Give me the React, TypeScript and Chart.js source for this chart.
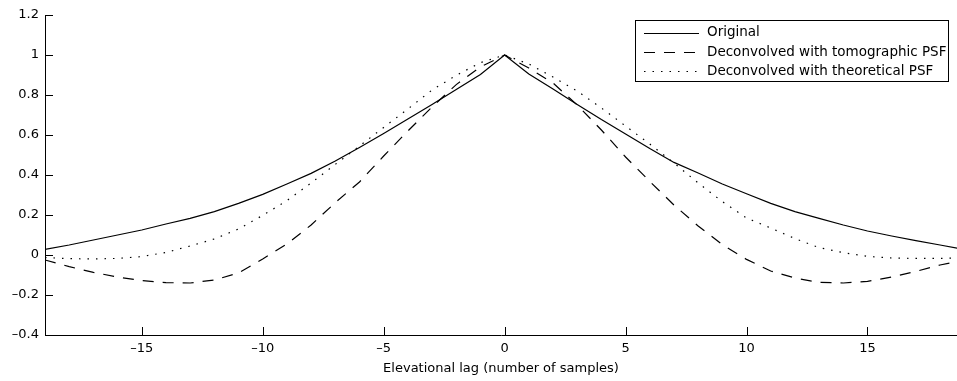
import React, { useEffect, useRef } from 'react';
import { Chart, registerables } from 'chart.js';

Chart.register(...registerables);

const lags = [-19, -18, -17, -16, -15, -14, -13, -12, -11, -10, -9, -8, -7, -6, -5, -4, -3, -2, -1, 0,
  1, 2, 3, 4, 5, 6, 7, 8, 9, 10, 11, 12, 13, 14, 15, 16, 17, 18, 19];

const original = [0.028, 0.05, 0.075, 0.1, 0.125, 0.155, 0.183, 0.217, 0.258, 0.303, 0.355, 0.408, 0.47, 0.538, 0.608, 0.68, 0.753, 0.828, 0.903, 1.0,
  0.905, 0.83, 0.753, 0.677, 0.605, 0.532, 0.463, 0.41, 0.355, 0.306, 0.258, 0.217, 0.183, 0.15, 0.12, 0.095, 0.072, 0.05, 0.028];

const tomographic = [-0.025, -0.058, -0.087, -0.11, -0.128, -0.138, -0.14, -0.125, -0.09, -0.02, 0.055, 0.15, 0.262, 0.365, 0.495, 0.62, 0.74, 0.852, 0.94, 1.0,
  0.935, 0.86, 0.75, 0.625, 0.49, 0.368, 0.25, 0.145, 0.052, -0.022, -0.08, -0.115, -0.137, -0.14, -0.132, -0.11, -0.082, -0.05, -0.025];

const theoretical = [-0.013, -0.018, -0.02, -0.017, -0.008, 0.013, 0.045, 0.08, 0.13, 0.198, 0.272, 0.36, 0.453, 0.545, 0.638, 0.73, 0.825, 0.898, 0.962, 1.0,
  0.955, 0.89, 0.82, 0.735, 0.645, 0.555, 0.46, 0.36, 0.267, 0.185, 0.135, 0.082, 0.037, 0.012, -0.007, -0.015, -0.017, -0.017, -0.013];

const seriesLabels = ['Original', 'Deconvolved with tomographic PSF', 'Deconvolved with theoretical PSF'];
const xTitle = 'Elevational lag (number of samples)';

const FONT = '"DejaVu Sans", "Liberation Sans", Arial, sans-serif';
const DASH = [11, 9];
const DOT = [1.5, 7];
const dashes = [[], DASH, DOT];

const fmt = (v: number) => {
  const n = Number(Number(v).toFixed(1));
  const s = String(Math.abs(n));
  return n < 0 ? '\u2013' + s : s;
};

const tickPlugin = {
  id: 'inwardTicks',
  afterDraw(chart: any) {
    const { ctx, chartArea, scales } = chart;
    ctx.save();
    ctx.strokeStyle = '#000';
    ctx.lineWidth = 1;
    ctx.beginPath();
    scales.x.ticks.forEach((t: any) => {
      const px = Math.round(scales.x.getPixelForValue(t.value)) + 0.5;
      ctx.moveTo(px, chartArea.bottom);
      ctx.lineTo(px, chartArea.bottom - 8);
    });
    scales.y.ticks.forEach((t: any) => {
      const py = Math.round(scales.y.getPixelForValue(t.value)) + 0.5;
      ctx.moveTo(chartArea.left, py);
      ctx.lineTo(chartArea.left + 8, py);
    });
    ctx.stroke();
    ctx.restore();
  },
};

const legendPlugin = {
  id: 'boxLegend',
  afterDraw(chart: any) {
    const { ctx } = chart;
    const x0 = 635.5, y0 = 20.5, w = 313, h = 61;
    ctx.save();
    ctx.fillStyle = '#fff';
    ctx.fillRect(x0, y0, w, h);
    ctx.strokeStyle = '#000';
    ctx.lineWidth = 1;
    ctx.setLineDash([]);
    ctx.strokeRect(x0, y0, w, h);
    const rows = [32.5, 52, 71];
    ctx.font = '13.5px ' + FONT;
    ctx.textBaseline = 'middle';
    ctx.textAlign = 'left';
    seriesLabels.forEach((lab, i) => {
      const y = Math.round(rows[i]) + 0.5;
      ctx.beginPath();
      ctx.setLineDash(dashes[i]);
      ctx.lineWidth = 1.1;
      ctx.moveTo(644, y);
      ctx.lineTo(699, y);
      ctx.stroke();
      ctx.setLineDash([]);
      ctx.fillStyle = '#000';
      ctx.fillText(lab, 707, rows[i]);
    });
    ctx.restore();
  },
};

export default function App() {
  const ref = useRef<HTMLCanvasElement | null>(null);
  useEffect(() => {
    document.body.style.margin = '0';
    const canvas = ref.current;
    if (!canvas) return;
    const mk = (vals: number[]) => lags.map((x, i) => ({ x, y: vals[i] }));
    const chart = new Chart(canvas, {
      type: 'line',
      data: {
        datasets: [
          { label: seriesLabels[0], data: mk(original), borderColor: '#000', borderWidth: 1.2, pointRadius: 0, tension: 0, fill: false },
          { label: seriesLabels[1], data: mk(tomographic), borderColor: '#000', borderWidth: 1.2, borderDash: DASH, pointRadius: 0, tension: 0, fill: false },
          { label: seriesLabels[2], data: mk(theoretical), borderColor: '#000', borderWidth: 1.2, borderDash: DOT, pointRadius: 0, tension: 0, fill: false },
        ],
      },
      options: {
        responsive: false,
        animation: false,
        devicePixelRatio: 1,
        layout: { padding: { top: 15, right: 0, left: 0, bottom: 0 } },
        plugins: { legend: { display: false }, tooltip: { enabled: false } },
        scales: {
          x: {
            type: 'linear',
            min: -19,
            max: 18.7,
            grid: { display: false, drawTicks: false },
            border: { display: true, color: '#000', width: 1 },
            ticks: {
              stepSize: 5,
              includeBounds: false,
              padding: 6,
              color: '#000',
              maxRotation: 0,
              autoSkip: false,
              font: { family: FONT, size: 13 },
              callback: (v: any) => fmt(v),
            },
            title: {
              display: true,
              text: xTitle,
              color: '#000',
              font: { family: FONT, size: 13 },
              padding: { top: 0, bottom: 5 },
            },
            afterFit: (s: any) => { s.height = 46; },
          },
          y: {
            type: 'linear',
            min: -0.4,
            max: 1.2,
            grid: { display: false, drawTicks: false },
            border: { display: true, color: '#000', width: 1 },
            ticks: {
              stepSize: 0.2,
              padding: 6,
              color: '#000',
              font: { family: FONT, size: 13 },
              callback: (v: any) => fmt(v),
            },
            afterFit: (s: any) => { s.width = 45; },
          },
        },
      },
      plugins: [tickPlugin, legendPlugin],
    } as any);
    return () => chart.destroy();
  }, []);
  return (
    <div style={{ position: 'fixed', left: 0, top: 0, width: 957, height: 381, background: '#fff' }}>
      <canvas ref={ref} width={957} height={381} style={{ width: 957, height: 381, display: 'block' }} />
    </div>
  );
}
